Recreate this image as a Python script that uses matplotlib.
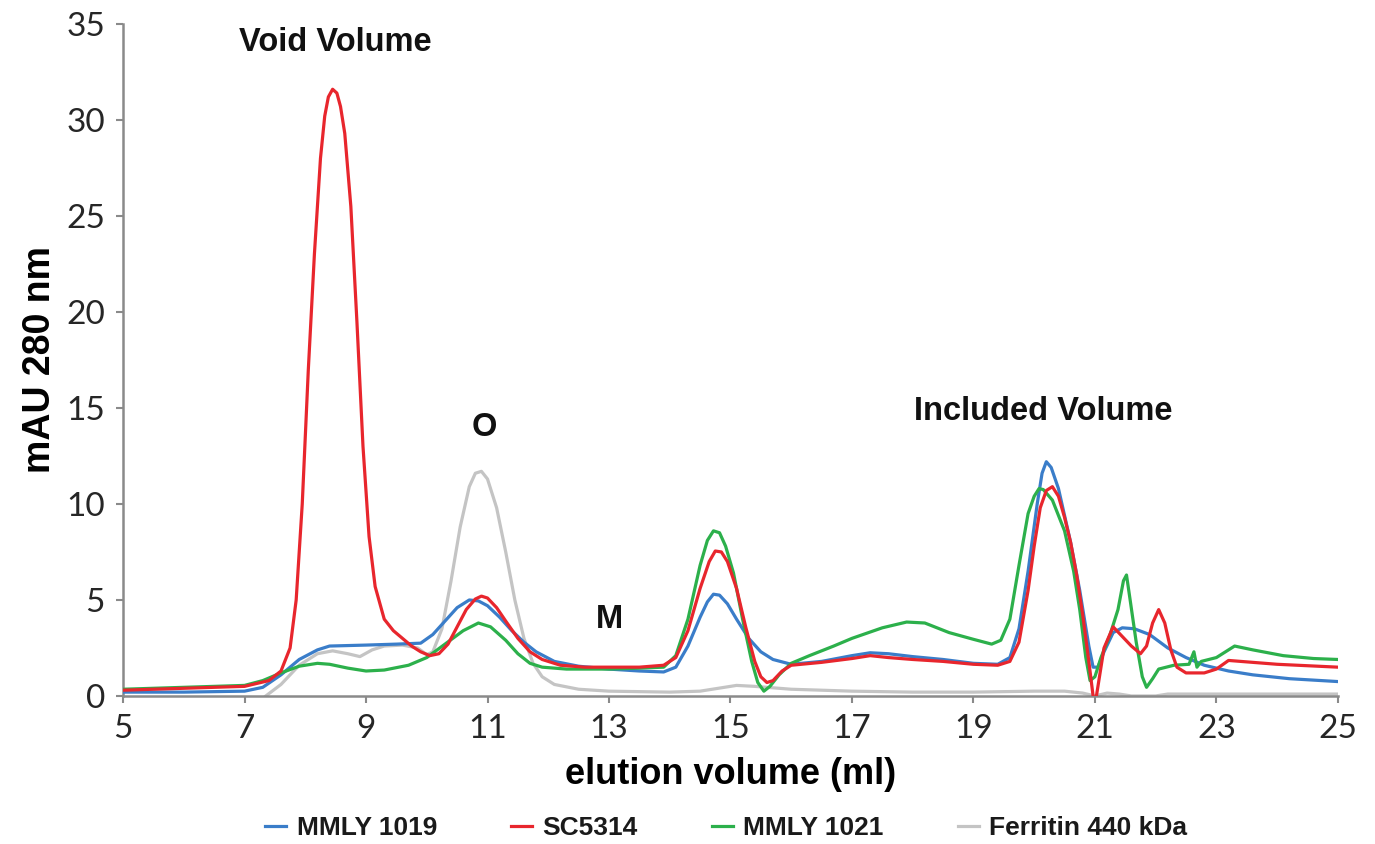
import matplotlib
matplotlib.use("Agg")
import matplotlib.pyplot as plt
import numpy as np
from matplotlib.lines import Line2D

# ---- data ----
red_x = [5.0, 6.0, 7.0, 7.4, 7.6, 7.75, 7.85, 7.95, 8.05, 8.15, 8.25, 8.32, 8.38, 8.45, 8.52, 8.58, 8.65,
         8.75, 8.85, 8.95, 9.05, 9.15, 9.3, 9.45, 9.6, 9.75, 9.9, 10.05, 10.2, 10.35, 10.5, 10.65, 10.8,
         10.9, 11.0, 11.15, 11.3, 11.5, 11.7, 11.9, 12.2, 12.6, 13.0, 13.5, 13.9, 14.1, 14.3, 14.5, 14.65,
         14.75, 14.85, 14.95, 15.1, 15.25, 15.4, 15.5, 15.6, 15.7, 15.85, 16.0, 16.5, 17.0, 17.3, 17.6,
         18.0, 18.5, 19.0, 19.4, 19.6, 19.75, 19.9, 20.0, 20.1, 20.2, 20.3, 20.4, 20.5, 20.6, 20.7, 20.8,
         20.9, 20.97, 21.0, 21.05, 21.15, 21.3, 21.45, 21.6, 21.75, 21.85, 21.95, 22.05, 22.15, 22.25,
         22.35, 22.5, 22.8, 23.0, 23.2, 23.4, 24.0, 25.0]
red_y = [0.30, 0.40, 0.50, 0.8, 1.3, 2.5, 5, 10, 17, 23, 28, 30.2, 31.2, 31.6, 31.4, 30.7, 29.3,
         25.5, 19.5, 13, 8.3, 5.7, 4.0, 3.4, 3.0, 2.6, 2.3, 2.1, 2.2, 2.7, 3.6, 4.5, 5.05,
         5.2, 5.1, 4.6, 3.9, 3.0, 2.3, 1.9, 1.6, 1.5, 1.5, 1.5, 1.6, 2.0, 3.4, 5.6, 7.0,
         7.55, 7.5, 7.0, 5.6, 3.6, 1.8, 1.0, 0.7, 0.8, 1.3, 1.6, 1.75, 1.95, 2.1, 2.0,
         1.9, 1.8, 1.65, 1.6, 1.8, 2.8, 5.5, 7.8, 9.8, 10.7, 10.9, 10.4, 9.3, 8.0, 6.3, 4.2,
         1.8, 0.0, -0.5, 0.5, 2.5, 3.6, 3.1, 2.6, 2.2, 2.6, 3.8, 4.5, 3.8, 2.4,
         1.5, 1.2, 1.2, 1.4, 1.85, 1.8, 1.65, 1.5]

blue_x = [5.0, 6.0, 7.0, 7.3, 7.6, 7.9, 8.2, 8.4, 9.0, 9.5, 9.9, 10.1, 10.3, 10.5, 10.7, 10.85, 11.0,
          11.2, 11.4, 11.6, 11.8, 12.1, 12.5, 13.0, 13.5, 13.9, 14.1, 14.3, 14.5, 14.62, 14.72, 14.82,
          14.95, 15.1, 15.3, 15.5, 15.7, 16.0, 16.5, 17.0, 17.3, 17.6, 18.0, 18.5, 19.0, 19.4, 19.6,
          19.75, 19.9, 20.05, 20.13, 20.2, 20.28, 20.4, 20.5, 20.6, 20.75, 20.9, 20.97, 21.05, 21.15,
          21.3, 21.45, 21.65, 21.9, 22.2, 22.5, 22.8, 23.2, 23.6, 24.2, 25.0]
blue_y = [0.2, 0.2, 0.25, 0.45, 1.1, 1.9, 2.4, 2.6, 2.65, 2.7, 2.75, 3.2, 3.9, 4.6, 5.0, 4.95, 4.7,
          4.1, 3.4, 2.8, 2.3, 1.8, 1.55, 1.4, 1.3, 1.25, 1.5, 2.6, 4.1, 4.9, 5.3, 5.25,
          4.8, 4.0, 3.0, 2.3, 1.9, 1.65, 1.8, 2.1, 2.25, 2.2, 2.05, 1.9, 1.7, 1.65, 2.0,
          3.5, 6.5, 10.0, 11.6, 12.2, 11.9, 10.8, 9.4, 8.0, 5.5, 2.6, 1.5, 1.5, 2.3,
          3.3, 3.55, 3.5, 3.2, 2.5, 2.0, 1.6, 1.3, 1.1, 0.9, 0.75]

green_x = [5.0, 6.0, 7.0, 7.3, 7.6, 7.9, 8.2, 8.4, 8.7, 9.0, 9.3, 9.7, 10.0, 10.3, 10.6, 10.85, 11.05,
           11.3, 11.5, 11.7, 11.9, 12.3, 13.0, 13.5, 13.9, 14.1, 14.3, 14.5, 14.62, 14.72, 14.82, 14.92,
           15.05, 15.2, 15.35, 15.45, 15.55, 15.65, 15.8, 16.0, 16.3, 16.7, 17.0, 17.5, 17.9, 18.2, 18.6,
           19.0, 19.3, 19.45, 19.6, 19.75, 19.9, 20.0, 20.08, 20.15, 20.3, 20.5, 20.65, 20.75, 20.85,
           20.92, 21.0, 21.1, 21.25, 21.38, 21.47, 21.52, 21.58, 21.68, 21.78, 21.85, 21.95, 22.05, 22.3,
           22.55, 22.63, 22.68, 22.75, 23.0, 23.15, 23.3, 23.6, 24.1, 24.6, 25.0]
green_y = [0.35, 0.45, 0.55, 0.8, 1.2, 1.55, 1.7, 1.65, 1.45, 1.3, 1.35, 1.6, 2.0, 2.7, 3.4, 3.8, 3.6,
           2.9, 2.2, 1.7, 1.5, 1.4, 1.4, 1.45, 1.5, 2.1, 4.0, 6.8, 8.1, 8.6, 8.5, 7.8,
           6.4, 4.0, 1.8, 0.7, 0.25, 0.5, 1.1, 1.7, 2.1, 2.6, 3.0, 3.55, 3.85, 3.8, 3.3,
           2.95, 2.7, 2.9, 4.0, 6.8, 9.5, 10.4, 10.8, 10.75, 10.2, 8.6, 6.5, 4.5, 2.0,
           0.8, 1.0, 2.0, 3.2, 4.5, 6.0, 6.3, 5.0, 2.8, 1.0, 0.45, 0.9, 1.4, 1.6,
           1.65, 2.3, 1.5, 1.8, 2.0, 2.3, 2.6, 2.4, 2.1, 1.95, 1.9]

gray_x = [7.35, 7.6, 7.9, 8.2, 8.45, 8.7, 8.9, 9.1, 9.3, 9.6, 9.85, 10.0, 10.1, 10.25, 10.4, 10.55,
          10.7, 10.8, 10.9, 11.0, 11.15, 11.3, 11.45, 11.6, 11.75, 11.9, 12.1, 12.5, 13.0, 14.0, 14.5,
          14.8, 15.1, 15.4, 16.0, 17.0, 18.0, 19.0, 20.0, 20.5, 20.8, 21.0, 21.2, 21.4, 21.6, 22.0,
          22.2, 23.0, 25.0]
gray_y = [0.0, 0.6, 1.6, 2.2, 2.35, 2.2, 2.05, 2.4, 2.6, 2.65, 2.5, 2.15, 2.3, 3.5, 6.0, 8.8,
          10.9, 11.6, 11.7, 11.3, 9.8, 7.5, 5.0, 3.0, 1.7, 1.0, 0.6, 0.35, 0.25, 0.2, 0.25,
          0.4, 0.55, 0.5, 0.35, 0.25, 0.2, 0.2, 0.25, 0.25, 0.15, 0.0, 0.15, 0.1, 0.0, 0.0,
          0.1, 0.1, 0.1]

series_names = ["MMLY 1019", "SC5314", "MMLY 1021", "Ferritin 440 kDa"]
x_ticks = [5, 7, 9, 11, 13, 15, 17, 19, 21, 23, 25]
y_ticks = [0, 5, 10, 15, 20, 25, 30, 35]

annotations = [("Void Volume", 8.49, 34.06), ("O", 10.94, 13.96),
               ("M", 13.01, 3.96), ("Included Volume", 20.15, 14.84)]

# ---- styling ----
C_BLUE = "#3a7dc9"
C_RED = "#e8262d"
C_GREEN = "#2cb04b"
C_GRAY = "#c4c4c4"
LW = 2.3
BOLD = ["Liberation Sans", "DejaVu Sans"]
TICKF = ["Lato", "DejaVu Sans"]

fig = plt.figure(figsize=(13.75, 8.44), dpi=100)
ax = fig.add_axes([0.0895, 0.1754, 0.8835, 0.7962])

ax.plot(gray_x, gray_y, color=C_GRAY, lw=LW, zorder=2, solid_joinstyle="round")
ax.plot(blue_x, blue_y, color=C_BLUE, lw=LW, zorder=3, solid_joinstyle="round")
ax.plot(green_x, green_y, color=C_GREEN, lw=LW, zorder=4, solid_joinstyle="round")
ax.plot(red_x, red_y, color=C_RED, lw=LW, zorder=5, solid_joinstyle="round")

ax.set_xlim(5, 25)
ax.set_ylim(0, 35)
ax.set_xticks(x_ticks)
ax.set_yticks(y_ticks)
for s in ["top", "right"]:
    ax.spines[s].set_visible(False)
for s in ["left", "bottom"]:
    ax.spines[s].set_color("#8a8a8a")
    ax.spines[s].set_linewidth(1.8)
ax.tick_params(axis="both", color="#8a8a8a", width=1.5, length=5, direction="out",
               labelsize=24, labelcolor="#262626", pad=8)
for lab in ax.get_xticklabels() + ax.get_yticklabels():
    lab.set_family(TICKF)

ax.set_xlabel("elution volume (ml)", family=BOLD, fontweight="bold", fontsize=26, labelpad=9)
ax.set_ylabel("mAU 280 nm", family=BOLD, fontweight="bold", fontsize=27, labelpad=6)

for txt, tx, ty in annotations:
    ax.text(tx, ty, txt, family=BOLD, fontweight="bold", fontsize=23.5,
            ha="center", va="center", color="#111111")

handles = [Line2D([], [], color=c, lw=LW) for c in [C_BLUE, C_RED, C_GREEN, C_GRAY]]
leg = fig.legend(handles, series_names, loc="center", bbox_to_anchor=(0.528, 0.019), ncol=4,
                 frameon=False, handlelength=0.8, handletextpad=0.4, columnspacing=2.8,
                 prop={"family": BOLD, "weight": "bold", "size": 19})
for t in leg.get_texts():
    t.set_color("#1a1a1a")

fig.savefig("out.png", dpi=100)
